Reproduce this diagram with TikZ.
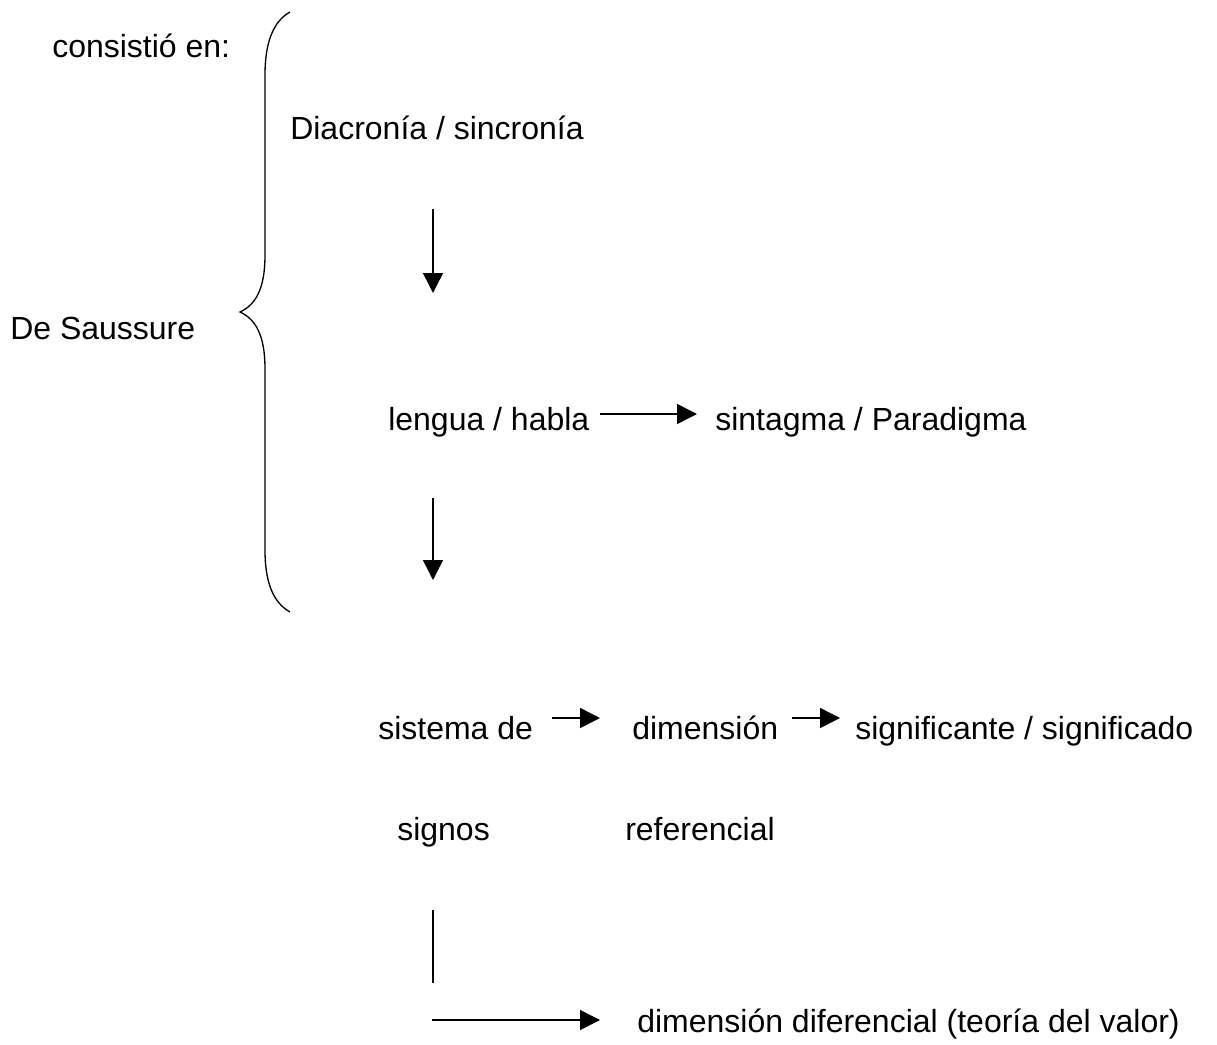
\documentclass[tikz,border=0pt]{standalone}
\usepackage{fontspec}
\setmainfont{Liberation Sans}
\usetikzlibrary{arrows.meta}

\tikzset{
  txt/.style={anchor=base west, inner sep=0pt, font=\fontsize{24}{28}\selectfont},
  arr/.style={line width=1.1pt, -{Triangle[length=15pt, width=15pt]}},
  ln/.style={line width=1.1pt}
}

\begin{document}
\begin{tikzpicture}[x=0.75pt,y=-0.75pt]
  \useasboundingbox (0,0) rectangle (1217,1045);
  % texts
  \node[txt] (consistio) at (52,58) {consistió en:};
  \node[txt] (saussure) at (10,339) {De Saussure};
  \node[txt] (diacronia) at (290,140) {Diacronía / sincronía};
  \node[txt] (lengua) at (388,430) {lengua / habla};
  \node[txt] (sintagma) at (715,430) {sintagma / Paradigma};
  \node[txt] (sistema) at (378,739) {sistema de};
  \node[txt] (dimension) at (632,739) {dimensión};
  \node[txt] (significante) at (855,739) {significante / significado};
  \node[txt] (signos) at (397,840) {signos};
  \node[txt] (referencial) at (625,840) {referencial};
  \node[txt] (diferencial) at (637,1032) {dimensión diferencial (teoría del valor)};
  % arrow ends
  \coordinate (a1) at (433,209); \coordinate (b1) at (433,293);
  \coordinate (a2) at (600,414); \coordinate (b2) at (697,414);
  \coordinate (a3) at (433,498); \coordinate (b3) at (433,580);
  \coordinate (a4) at (552,718); \coordinate (b4) at (600,718);
  \coordinate (a5) at (792,718); \coordinate (b5) at (840,718);
  \coordinate (l1) at (433,910); \coordinate (l2) at (433,983);
  \coordinate (a6) at (432,1020); \coordinate (b6) at (600,1020);
  % arrows
  \draw[arr] (a1) -- (b1);
  \draw[arr] (a2) -- (b2);
  \draw[arr] (a3) -- (b3);
  \draw[arr] (a4) -- (b4);
  \draw[arr] (a5) -- (b5);
  \draw[ln] (l1) -- (l2);
  \draw[arr] (a6) -- (b6);
  % brace
  \draw[line width=1pt] (290,12) .. controls (272,22) and (265,45) .. (265,75)
    -- (265,255) .. controls (265,290) and (255,305) .. (240,312)
    .. controls (255,319) and (265,334) .. (265,369)
    -- (265,550) .. controls (265,580) and (272,602) .. (290,612);
\end{tikzpicture}
\end{document}
